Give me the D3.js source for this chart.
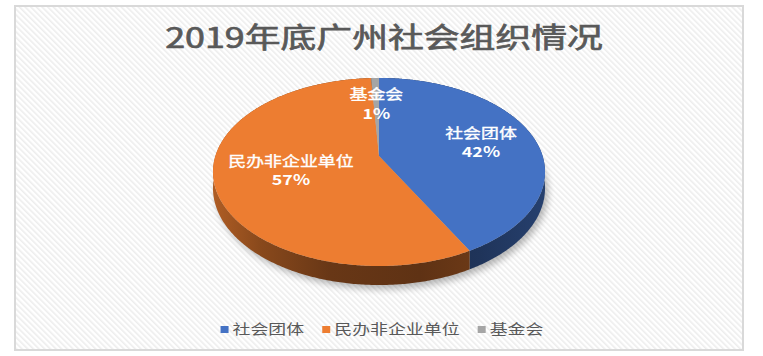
<!DOCTYPE html>
<html><head><meta charset="utf-8">
<script src="https://cdn.jsdelivr.net/npm/d3@7"></script>
<style>body{margin:0;background:#fff}svg{display:block}</style>
</head><body>
<svg id="chart" width="763" height="356"></svg>
<script>
const title = "2019年底广州社会组织情况";
const categories = ["社会团体", "民办非企业单位", "基金会"];
const values = [42.2, 56.9, 0.9];
const colors = ["#4472C4", "#ED7D31", "#A5A5A5"];

const FONT = '"Noto Sans CJK SC","Noto Sans",sans-serif';
const SX = 1.28; // horizontal stretch of the reference
const svg = d3.select("#chart");
const defs = svg.append("defs");

// hatch background
const pat = defs.append("pattern").attr("id", "hatch").attr("patternUnits", "userSpaceOnUse")
  .attr("width", 4).attr("height", 4).attr("patternTransform", "rotate(-45)");
pat.append("rect").attr("width", 4).attr("height", 4).attr("fill", "#ffffff");
pat.append("rect").attr("width", 1.6).attr("height", 4).attr("fill", "#ededed");

const blur = defs.append("filter").attr("id", "shadow").attr("x", "-20%").attr("y", "-20%").attr("width", "140%").attr("height", "140%");
blur.append("feGaussianBlur").attr("stdDeviation", 3.5);

svg.append("rect").attr("x", 15).attr("y", 6).attr("width", 728).attr("height", 344)
  .attr("fill", "url(#hatch)").attr("stroke", "#d9d9d9").attr("stroke-width", 2);

// title
svg.append("text").attr("transform", `translate(384,48) scale(${SX},1)`)
  .attr("text-anchor", "middle").attr("font-family", FONT).attr("font-size", 28)
  .attr("fill", "#595959").attr("stroke", "#595959").attr("stroke-width", 0.7)
  .text(title);

// perspective projection of the pie disc
const cx = 379, cy = 156, rx = 163.6, ry = 91.3, k = 0.17, depth = 15.8;
function proj(a, r, down) {
  const X = r * Math.sin(a), Z = -r * Math.cos(a);
  const w = 1 - k * Z;
  return [cx + rx * X / w, cy + ry * Z / w + (down ? depth / w : 0)];
}
function arcPts(a0, a1, down) {
  const n = Math.max(2, Math.ceil((a1 - a0) / 0.01));
  return d3.range(n + 1).map(i => proj(a0 + (a1 - a0) * i / n, 1, down));
}
const line = d3.line();

const pie = d3.pie().sort(null).startAngle(0).endAngle(2 * Math.PI).value(d => d);
const arcs = pie(values);
const total = d3.sum(values);

// shadow
const fullBot = arcPts(0, 2 * Math.PI, true);
const g = svg.append("g");
g.append("path").attr("d", line(fullBot) + "Z").attr("transform", "translate(3,4)")
  .attr("fill", "#000").attr("opacity", 0.28).attr("filter", "url(#shadow)");

// side gradients
const shade = [[213, 0.74], [260, 0.58], [330, 0.44], [420, 0.40], [480, 0.46], [545, 0.56]];
arcs.forEach((d, i) => {
  const gr = defs.append("linearGradient").attr("id", "side" + i).attr("gradientUnits", "userSpaceOnUse")
    .attr("x1", 213).attr("x2", 545).attr("y1", 0).attr("y2", 0);
  const c = d3.rgb(colors[i]);
  shade.forEach(([x, f]) => {
    gr.append("stop").attr("offset", (x - 213) / (545 - 213))
      .attr("stop-color", d3.rgb(c.r * f, c.g * f, c.b * f).formatHex());
  });
});

// sides
arcs.forEach((d, i) => {
  const top = arcPts(d.startAngle, d.endAngle, false);
  const bot = arcPts(d.startAngle, d.endAngle, true).reverse();
  g.append("path").attr("d", line(top.concat(bot)) + "Z").attr("fill", `url(#side${i})`);
});

// top faces
arcs.forEach((d, i) => {
  const pts = [proj(0, 0, false)].concat(arcPts(d.startAngle, d.endAngle, false));
  g.append("path").attr("d", line(pts) + "Z").attr("fill", colors[i]);
});

// labels
const labelR = [0.66, 0.545, 0.64];
arcs.forEach((d, i) => {
  const mid = (d.startAngle + d.endAngle) / 2;
  const [x, y] = proj(mid, labelR[i], false);
  const pct = Math.round(d.value / total * 100) + "%";
  [[categories[i], -4, "normal", 0.35], [pct, 15.5, "bold", 0]].forEach(([t, dy, fw, sw]) => {
    g.append("text").attr("transform", `translate(${x},${y + dy}) scale(${SX},1)`)
      .attr("text-anchor", "middle").attr("font-family", FONT).attr("font-size", 14)
      .attr("font-weight", fw).attr("fill", "#ffffff")
      .attr("stroke", "#ffffff").attr("stroke-width", sw).text(t);
  });
});

// legend
const lg = svg.append("g");
const items = categories.map((c, i) => {
  const it = lg.append("g");
  it.append("rect").attr("width", 8).attr("height", 7).attr("y", -8).attr("fill", colors[i]);
  const t = it.append("text").attr("font-family", FONT).attr("font-size", 14).attr("fill", "#595959").text(c);
  const w = t.node().getComputedTextLength() * SX;
  t.attr("transform", `translate(12,0) scale(${SX},1)`);
  return { it, w: 12 + w };
});
const gap = 18;
const totalW = d3.sum(items, d => d.w) + gap * (items.length - 1);
let lx = 382 - totalW / 2;
items.forEach(d => { d.it.attr("transform", `translate(${lx},334)`); lx += d.w + gap; });
</script>
</body></html>
